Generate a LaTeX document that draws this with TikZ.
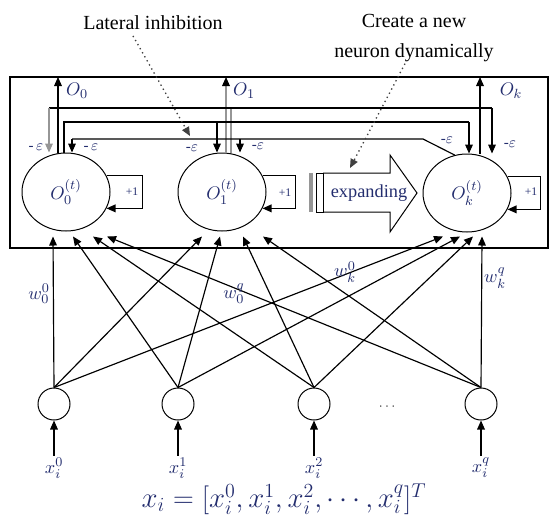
\documentclass[tikz,border=0pt]{standalone}
\usepackage{fontspec}
\setmainfont{Liberation Serif}
\usetikzlibrary{positioning, shapes.geometric, arrows.meta, calc}
\definecolor{labelNavy}{RGB}{35, 45, 110}
\definecolor{wireGray}{RGB}{150, 150, 150}

\begin{document}
\begin{tikzpicture}[x=0.6pt, y=-0.6pt, font=\fontsize{11}{13}\selectfont, >={Triangle[length=5.4pt, width=4.6pt]},
    neuron/.style={draw, ellipse, line width=0.6pt, minimum width=52.8pt, minimum height=46.8pt, inner sep=0pt, text=labelNavy},
    inunit/.style={draw, circle, line width=0.6pt, minimum size=19.2pt, inner sep=0pt},
    wire/.style={line width=0.7pt},
    graywire/.style={line width=0.7pt, draw=wireGray},
    mlabel/.style={text=labelNavy, inner sep=1pt},
    hint/.style={dotted, line width=0.8pt, draw=black!75}]
    \useasboundingbox (0,0) rectangle (557,520);

    \node[font=\fontsize{12}{14}\selectfont] (lat) at (153,23) {Lateral inhibition};
    \node[align=center, font=\fontsize{12}{14}\selectfont] (create) at (414,38) {Create a new\\[4pt]neuron dynamically};

    \draw[line width=1pt] (10,77) rectangle (548,248);

    \node[neuron] (o0) at (66,192) {$O_0^{(t)}$};
    \node[neuron] (o1) at (222,192) {$O_1^{(t)}$};
    \node[neuron] (ok) at (467,193) {$O_k^{(t)}$};

    \coordinate (t0) at (58,77);
    \coordinate (t1) at (226,77);
    \coordinate (tk) at (480,77);
    \draw[wire, ->] (o0.north -| t0) -- (t0);
    \draw[graywire, -{Triangle[length=5.4pt, width=4.6pt, color=black]}] (o1.north -| t1) -- (t1);
    \draw[wire, ->] (ok.north -| tk) -- (tk);
    \node[mlabel] (lo0) at (77,91) {$O_0$};
    \node[mlabel] (lo1) at (244,91) {$O_1$};
    \node[mlabel] (lok) at (511,91) {$O_k$};

    \coordinate (a0) at (49,108);
    \coordinate (a1) at (231,108);
    \coordinate (ak) at (492,108);
    \draw[graywire] (o1.north -| a1) -- (a1);
    \draw[wire] (a0) -- (ak);
    \draw[graywire, ->] (a0) -- (a0 |- o0.north);
    \draw[wire, ->] (ak) -- (ak |- ok.north);

    \coordinate (b0) at (64,122);
    \coordinate (b1) at (217,122);
    \coordinate (bk) at (469,122);
    \draw[wire] (o0.north -| b0) -- (b0) -- (bk);
    \draw[wire, ->] (b1) -- (b1 |- o1.north);
    \draw[wire, ->] (bk) -- (bk |- ok.north);

    \coordinate (c0) at (72,139);
    \coordinate (c1) at (240,139);
    \coordinate (ck) at (423,139);
    \draw[wire] (ok.108) -- (ck) -- (c0);
    \draw[wire, ->] (c0) -- (c0 |- o0.north);
    \draw[wire, ->] (c1) -- (c1 |- o1.north);

    \node[mlabel, font=\small] (e0l) at (36,147) {-\,$\varepsilon$};
    \node[mlabel, font=\small] (e0r) at (91,147) {-\,$\varepsilon$};
    \node[mlabel, font=\small] (e1l) at (192,148) {-$\varepsilon$};
    \node[mlabel, font=\small] (e1r) at (258,146) {-$\varepsilon$};
    \node[mlabel, font=\small] (ekl) at (447,140) {-$\varepsilon$};
    \node[mlabel, font=\small] (ekr) at (510,144) {-$\varepsilon$};

    \draw[wire, ->] (o0.22) -- ++(36,0) |- (o0.-22);
    \draw[wire, ->] (o1.22) -- ++(33,0) |- (o1.-22);
    \draw[wire, ->] (ok.22) -- ++(33,0) |- (ok.-22);
    \node[mlabel, font=\scriptsize] (p0) at (132,192) {+1};
    \node[mlabel, font=\scriptsize] (p1) at (285,193) {+1};
    \node[mlabel, font=\scriptsize] (pk) at (531,192) {+1};

    \coordinate (latend) at (190,136);
    \draw[hint, ->] ($(lat.south)+(-20,0)$) -- (latend);

    \fill[wireGray] (309,173) rectangle (313,212);
    \draw[line width=0.5pt] (316,173) rectangle (323,212);
    \draw[line width=0.6pt] (323,173) -- (390,173) -- (390,155) -- (417,193) -- (390,232) -- (390,212) -- (323,212);
    \node[mlabel] (expand) at (369,193) {expanding};
    \coordinate (createend) at (350,168);
    \draw[hint, ->] ($(create.south)+(-9,-4)$) -- (createend);

    \node[inunit] (x0) at (54,404) {};
    \node[inunit] (x1) at (178,404) {};
    \node[inunit] (x2) at (314,404) {};
    \node[inunit] (xq) at (481,404) {};
    \node[font=\scriptsize] (dots) at (387,407) {$\cdots$};

    \foreach \src/\da/\db/\dc in {x0/-13/-20/-24, x1/7/-2/-7, x2/27/21/6, xq/41/41/15} {
        \draw[wire, ->] (\src.north) -- ($(o0.south)+(\da,5)$);
        \draw[wire, ->] (\src.north) -- ($(o1.south)+(\db,5)$);
        \draw[wire, ->] (\src.north) -- ($(ok.south)+(\dc,4)$);
    }

    \node[mlabel] (w00) at (39,294) {$w_0^0$};
    \node[mlabel] (w0q) at (234,294) {$w_0^q$};
    \node[mlabel] (wk0) at (345,272) {$w_k^0$};
    \node[mlabel] (wkq) at (495,278) {$w_k^q$};

    \node[mlabel] (l0) at (54,468) {$x_i^0$};
    \node[mlabel] (l1) at (178,468) {$x_i^1$};
    \node[mlabel] (l2) at (314,468) {$x_i^2$};
    \node[mlabel] (lq) at (481,468) {$x_i^q$};
    \draw[wire, ->] (x0 |- l0.north) -- (x0.south);
    \draw[wire, ->] (x1 |- l1.north) -- (x1.south);
    \draw[wire, ->] (x2 |- l2.north) -- (x2.south);
    \draw[wire, ->] (xq |- lq.north) -- (xq.south);

    \node[mlabel, font=\LARGE] (vec) at (284,499) {$x_i = [x_i^0, x_i^1, x_i^2, \cdots, x_i^q]^T$};
\end{tikzpicture}
\end{document}
